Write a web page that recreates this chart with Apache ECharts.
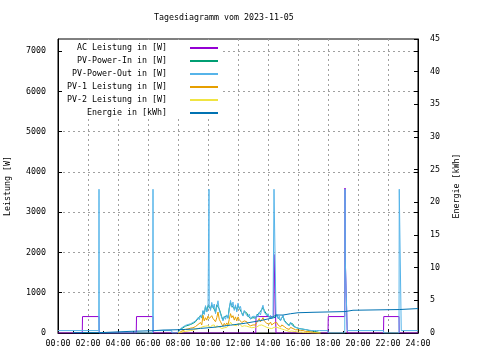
<!DOCTYPE html>
<html>
<head>
<meta charset="utf-8">
<script src="https://cdn.jsdelivr.net/npm/echarts@6/dist/echarts.min.js"></script>
<style>html,body{margin:0;padding:0;background:#fff}#c{width:480px;height:360px}</style>
</head>
<body>
<div id="c"></div>
<script>
// ---------- data ----------
const titleText = "Tagesdiagramm vom 2023-11-05";
const seriesNames = ["AC Leistung in [W]", "PV-Power-In in [W]", "PV-Power-Out in [W]", "PV-1 Leistung in [W]", "PV-2 Leistung in [W]", "Energie in [kWh]"];
const xTickHours = [0, 2, 4, 6, 8, 10, 12, 14, 16, 18, 20, 22, 24];

const acTimes  = ["00:00","01:37","01:38","02:44","02:45","05:13","05:14","06:20","06:21","13:11","13:12","14:23","14:24","14:31","14:32","18:00","18:01","19:07","19:08","19:09","19:16","19:17","21:42","21:43","22:44","22:45","24:00"];
const acValues = [0,0,408,408,0,0,408,408,0,0,408,408,1950,1950,0,0,408,408,3600,1850,1850,0,0,408,408,0,0];

const dayTimes = [
  "08:00","08:05","08:10","08:15","08:20","08:25","08:30","08:35","08:40","08:45","08:50","08:55",
  "09:00","09:05","09:10","09:15","09:20","09:25","09:30","09:35","09:40","09:45","09:50","09:55",
  "10:00","10:05","10:10","10:15","10:20","10:25","10:30","10:35","10:40","10:45","10:50","10:55",
  "11:00","11:05","11:10","11:15","11:20","11:25","11:30","11:35","11:40","11:45","11:50","11:55",
  "12:00","12:05","12:10","12:15","12:20","12:25","12:30","12:35","12:40","12:45","12:50","12:55",
  "13:00","13:05","13:10","13:15","13:20","13:25","13:30","13:35","13:40","13:45","13:50","13:55",
  "14:00","14:05","14:10","14:15","14:20","14:25","14:30","14:35","14:40","14:45","14:50","14:55",
  "15:00","15:05","15:10","15:15","15:20","15:25","15:30","15:35","15:40","15:45","15:50","15:55",
  "16:00","16:05","16:10","16:15","16:20","16:25","16:30","16:35","16:40","16:45","16:50","16:55",
  "17:00","17:05","17:10","17:15","17:20","17:25","17:30"];
const pvInValues = [
  30,50,90,70,130,110,170,150,190,160,210,190,
  240,210,280,250,360,320,430,370,540,470,660,540,
  680,640,600,700,650,680,520,700,740,600,500,400,
  320,400,360,430,380,620,760,680,720,600,660,560,
  700,620,620,500,440,540,500,500,420,450,360,390,
  380,400,370,440,420,500,470,580,640,560,540,460,
  460,400,430,380,400,420,410,440,380,400,320,370,
  420,320,330,240,240,190,250,210,220,160,160,130,
  150,110,120,100,120,90,100,80,90,60,70,50,
  50,40,40,30,20,10,10];
const pv1Values = [
  0,10,30,20,60,50,90,70,100,80,120,100,
  130,110,160,130,210,180,260,200,440,300,380,320,
  420,360,320,430,360,400,280,380,520,340,280,220,
  170,240,190,250,200,340,480,380,430,320,400,300,
  400,330,350,260,220,300,260,280,220,250,180,210,
  200,230,200,260,300,360,280,330,380,300,310,240,
  260,220,270,200,240,250,230,260,200,230,150,200,
  240,160,180,110,130,90,140,100,110,70,80,60,
  80,50,60,40,60,30,40,30,40,20,30,20,
  20,10,10,0,0,0,0];
const pv2Values = [
  0,0,10,10,30,20,40,40,50,40,60,50,
  70,60,90,70,110,90,130,100,160,120,170,140,
  180,150,140,190,160,200,130,180,200,150,140,110,
  90,130,110,140,120,200,270,220,250,190,230,180,
  240,200,210,160,140,180,160,170,130,150,110,130,
  120,140,120,150,160,190,160,200,210,170,180,140,
  150,120,150,110,130,140,120,140,110,120,80,100,
  120,80,90,60,60,40,70,50,60,40,40,30,
  40,20,30,20,30,10,20,10,10,10,10,0,
  0,0,0,0,0,0,0];

const pvOutTimes = [
  "00:00","02:43","02:44","02:45","06:19","06:20","06:21","07:35","07:36","07:55",
  "08:00","08:05","08:10","08:15","08:20","08:25","08:30","08:35","08:40","08:45","08:50","08:55",
  "09:00","09:05","09:10","09:15","09:20","09:25","09:30","09:35","09:40","09:45","09:50","09:55",
  "10:00","10:03","10:04","10:05","10:10","10:15","10:20","10:25","10:30","10:35","10:40","10:45","10:50","10:55",
  "11:00","11:05","11:10","11:15","11:20","11:25","11:30","11:35","11:40","11:45","11:50","11:55",
  "12:00","12:05","12:10","12:15","12:20","12:25","12:30","12:35","12:40","12:45","12:50","12:55",
  "13:00","13:05","13:10","13:15","13:20","13:25","13:30","13:35","13:40","13:45","13:50","13:55",
  "14:00","14:05","14:10","14:15","14:20","14:23","14:24","14:31","14:32","14:35","14:40","14:45","14:50","14:55",
  "15:00","15:05","15:10","15:15","15:20","15:25","15:30","15:35","15:40","15:45","15:50","15:55",
  "16:00","16:05","16:10","16:15","16:20","16:25","16:30","16:35","16:40","16:45","16:50","16:55",
  "17:00","17:05","17:10","17:15","17:20","17:25","17:30",
  "18:00","18:01","19:07","19:08","19:09","19:16","19:17","21:42","21:43","22:44","22:45","22:52","22:53","24:00"];
const pvOutValues = [
  60,60,3570,0,0,3570,60,60,0,0,
  40,60,110,80,150,120,190,160,210,170,230,200,
  260,220,300,260,380,330,450,380,560,460,680,520,
  620,650,3570,700,560,760,620,720,480,650,800,560,480,380,
  300,420,340,450,360,600,810,640,770,560,700,520,
  740,600,660,480,420,560,480,520,400,470,340,400,
  360,420,350,460,400,520,450,600,690,520,560,430,
  480,380,440,360,420,380,3570,3570,400,460,360,420,300,380,
  440,300,340,220,250,180,270,200,230,150,170,130,
  170,110,130,100,140,90,110,80,100,70,80,60,
  70,60,65,60,60,60,60,
  60,0,0,3570,1850,1850,60,60,0,0,3570,3570,60,60];

const energyTimes  = ["01:00","02:45","04:48","06:20","07:00","08:00","08:30","09:00","09:30","10:00","10:30","11:00","11:30",
  "12:00","12:30","13:00","13:30","14:00","14:30","15:00","15:30","16:00","17:00","19:08","19:40","22:45","24:00"];
const energyValues = [0.05,0.25,0.35,0.45,0.5,0.55,0.6,0.7,0.8,0.9,1.05,1.2,1.35,
  1.5,1.7,1.9,2.15,2.4,2.75,2.95,3.1,3.17,3.28,3.48,3.59,3.74,3.74];

// ---------- build ----------
const toH = s => { const p = s.split(':').map(Number); return p[0] + p[1] / 60; };
const pairs = (t, v) => t.map((s, i) => [toH(s), v[i]]);
const pad = n => (n < 10 ? '0' : '') + n;

const FONT = 'DejaVu Sans Mono';
const FS = 8.3;
const colors = ['#9400d3', '#009e73', '#56b4e9', '#e69f00', '#f0e442', '#0072b2'];
const gridDash = { color: '#a0a0a0', type: [2, 3], width: 1 };

const chart = echarts.init(document.getElementById('c'), null, { renderer: 'canvas' });
const lineSeries = (name, data, idx, extra) => Object.assign({
  name, type: 'line', data, showSymbol: false, symbol: 'none',
  lineStyle: { width: 1, color: colors[idx] }, itemStyle: { color: colors[idx] },
  animation: false, silent: true
}, extra || {});

chart.setOption({
  animation: false,
  backgroundColor: '#fff',
  textStyle: { fontFamily: FONT, fontSize: FS, color: '#000' },
  title: {
    text: titleText, left: 154, top: 13, padding: 0,
    textStyle: { fontFamily: FONT, fontSize: FS, fontWeight: 'normal', color: '#000', lineHeight: 10 }
  },
  grid: { left: 58, right: 62, top: 39, bottom: 27, show: true, borderColor: '#000', borderWidth: 1,
    containLabel: false, outerBoundsMode: 'none' },
  legend: {
    orient: 'vertical', align: 'right', right: 258, top: 40,
    padding: [3, 4, 1, 5], backgroundColor: '#fff',
    itemWidth: 28, itemHeight: 2, itemGap: 3, icon: 'rect',
    textStyle: { fontFamily: FONT, fontSize: FS, color: '#000', lineHeight: 10, padding: [0, 18, 0, 0] },
    data: seriesNames, selectedMode: false
  },
  xAxis: {
    type: 'value', min: 0, max: 24, interval: 2,
    axisLine: { show: true, lineStyle: { color: '#000', width: 1 } },
    axisTick: { show: true, inside: true, length: 4, lineStyle: { color: '#000' } },
    minorTick: { show: true, splitNumber: 2, length: 2, lineStyle: { color: '#000' } },
    axisLabel: { margin: 7, fontFamily: FONT, fontSize: FS, color: '#000',
      formatter: v => xTickHours.indexOf(v) >= 0 ? pad(v) + ':00' : '' },
    splitLine: { show: true, showMinLine: false, showMaxLine: false, lineStyle: gridDash }
  },
  yAxis: [
    {
      type: 'value', min: 0, max: 7300, interval: 1000, position: 'left',
      name: 'Leistung [W]', nameLocation: 'middle', nameGap: 46, nameRotate: 90,
      nameTextStyle: { fontFamily: FONT, fontSize: FS, color: '#000' },
      axisLine: { show: true, lineStyle: { color: '#000' } },
      axisTick: { show: true, inside: true, length: 4, lineStyle: { color: '#000' } },
      axisLabel: { margin: 12, showMaxLabel: false, fontFamily: FONT, fontSize: FS, color: '#000',
        formatter: v => String(v) },
      splitLine: { show: true, showMinLine: false, showMaxLine: false, lineStyle: gridDash }
    },
    {
      type: 'value', min: 0, max: 45, interval: 5, position: 'right',
      name: 'Energie [kWh]', nameLocation: 'middle', nameGap: 35, nameRotate: 90,
      nameTextStyle: { fontFamily: FONT, fontSize: FS, color: '#000' },
      axisLine: { show: true, lineStyle: { color: '#000' } },
      axisTick: { show: true, inside: true, length: 4, lineStyle: { color: '#000' } },
      axisLabel: { margin: 12, fontFamily: FONT, fontSize: FS, color: '#000', formatter: v => String(v) },
      splitLine: { show: false }
    },
    {
      type: 'value', min: 0, max: 7300, interval: 1000, position: 'right', offset: 0,
      axisLine: { show: false }, axisLabel: { show: false }, splitLine: { show: false },
      axisTick: { show: true, inside: true, length: 4, lineStyle: { color: '#000' } }
    }
  ],
  series: [
    lineSeries(seriesNames[0], pairs(acTimes, acValues), 0),
    lineSeries(seriesNames[1], pairs(dayTimes, pvInValues), 1),
    lineSeries(seriesNames[2], pairs(pvOutTimes, pvOutValues), 2),
    lineSeries(seriesNames[3], pairs(dayTimes, pv1Values), 3),
    lineSeries(seriesNames[4], pairs(dayTimes, pv2Values), 4),
    lineSeries(seriesNames[5], pairs(energyTimes, energyValues), 5, { yAxisIndex: 1, step: 'end' })
  ]
});
</script>
</body>
</html>
